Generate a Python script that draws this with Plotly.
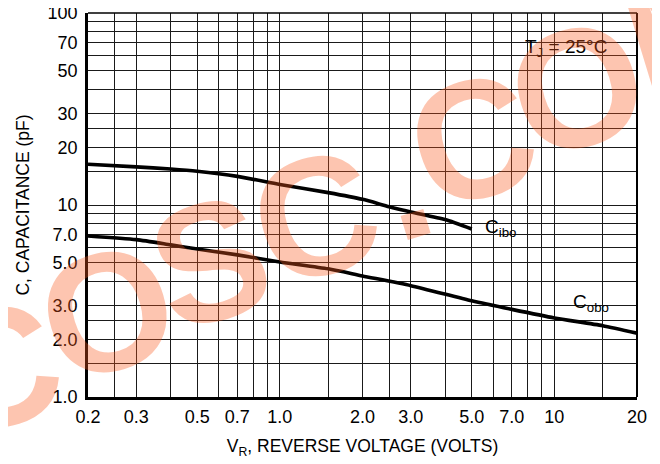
import plotly.graph_objects as go

# ---- data ----
vr_ibo = [0.2, 0.3, 0.4, 0.5, 0.7, 1.0, 1.5, 2.0, 2.5, 3.0, 4.0, 5.0]
c_ibo = [16.3, 15.8, 15.4, 15.0, 14.1, 12.8, 11.6, 10.7, 9.8, 9.2, 8.4, 7.5]

vr_obo = [0.2, 0.3, 0.4, 0.5, 0.7, 1.0, 1.5, 2.0, 3.0, 5.0, 7.0, 10, 15, 20]
c_obo = [6.9, 6.6, 6.2, 5.9, 5.5, 5.05, 4.65, 4.27, 3.8, 3.17, 2.86, 2.58, 2.35, 2.15]

x_grid = [0.2, 0.25, 0.3, 0.4, 0.5, 0.6, 0.7, 0.8, 0.9, 1, 1.5, 2, 2.5, 3, 4, 5, 6, 7, 8, 9, 10, 15, 20]
x_labels = {0.2: "0.2", 0.3: "0.3", 0.5: "0.5", 0.7: "0.7", 1: "1.0", 2: "2.0",
            3: "3.0", 5: "5.0", 7: "7.0", 10: "10", 20: "20"}
y_grid = [1, 1.5, 2, 2.5, 3, 4, 5, 6, 7, 8, 9, 10, 15, 20, 25, 30, 40, 50, 60, 70, 80, 90, 100]
y_labels = {1: "1.0", 2: "2.0", 3: "3.0", 5: "5.0", 7: "7.0", 10: "10", 20: "20",
            30: "30", 50: "50", 70: "70", 100: "100"}

x_title = "V<sub>R</sub>, REVERSE VOLTAGE (VOLTS)"
y_title = "C, CAPACITANCE (pF)"
temp_label = "T<sub>J</sub> = 25°C"
ibo_label = "C<sub>ibo</sub>"
obo_label = "C<sub>obo</sub>"
watermark_letters = ["C", "O", "S", "C", ".", "C", "O", "M"]

# layout of the watermark letters (paper coordinates)
wm_pos = [(-0.165, 0.075), (0.035, 0.222), (0.222, 0.352), (0.415, 0.468),
          (0.572, 0.562), (0.701, 0.668), (0.891, 0.805), (1.109, 0.951)]

FONT = "Liberation Sans, Arial, sans-serif"
GRID = "#1a1a1a"

fig = go.Figure()
fig.add_trace(go.Scatter(x=vr_ibo, y=c_ibo, mode="lines",
                         line=dict(color="black", width=3.6, shape="spline", smoothing=0.6),
                         showlegend=False, hoverinfo="skip"))
fig.add_trace(go.Scatter(x=vr_obo, y=c_obo, mode="lines",
                         line=dict(color="black", width=3.6, shape="spline", smoothing=0.6),
                         showlegend=False, hoverinfo="skip"))

fig.update_layout(
    width=652, height=456,
    margin=dict(l=80, r=23, t=5, b=67, autoexpand=False),
    paper_bgcolor="white", plot_bgcolor="white",
    font=dict(family=FONT, size=18, color="black"),
    xaxis=dict(
        type="log", range=[-0.69897, 1.30103],
        tickmode="array", tickvals=x_grid,
        ticktext=[x_labels.get(v, "") for v in x_grid],
        showgrid=True, gridcolor=GRID, gridwidth=1.3,
        showline=True, linecolor="black", linewidth=2.6,
        ticks="outside", ticklen=2, tickcolor="rgba(0,0,0,0)",
        ticklabeloverflow="allow",
        zeroline=False,
        title=dict(text=x_title, standoff=14, font=dict(size=17.5)),
        tickfont=dict(size=18),
    ),
    yaxis=dict(
        type="log", range=[0, 2],
        tickmode="array", tickvals=y_grid,
        ticktext=[y_labels.get(v, "") for v in y_grid],
        showgrid=True, gridcolor=GRID, gridwidth=1.3,
        showline=True, linecolor="black", linewidth=2.6,
        ticks="outside", ticklen=4, tickcolor="rgba(0,0,0,0)",
        ticklabeloverflow="allow",
        zeroline=False,
        title=dict(text=y_title, standoff=14, font=dict(size=17.5)),
        tickfont=dict(size=18),
    ),
)

shapes = [
    # white boxes under labels (hide gridlines, not curves)
    dict(type="rect", xref="paper", yref="paper", x0=0.791, x1=0.969, y0=0.865, y1=0.958,
         fillcolor="white", line=dict(width=0), layer="between"),
    dict(type="rect", xref="paper", yref="paper", x0=0.707, x1=0.800, y0=0.391, y1=0.489,
         fillcolor="white", line=dict(width=0), layer="between"),
    dict(type="rect", xref="paper", yref="paper", x0=0.869, x1=0.973, y0=0.206, y1=0.292,
         fillcolor="white", line=dict(width=0), layer="between"),
    # top and right frame
    dict(type="line", xref="paper", yref="paper", x0=0, x1=1, y0=1, y1=1,
         line=dict(color="black", width=1.5)),
    dict(type="line", xref="paper", yref="paper", x0=1, x1=1, y0=0, y1=1,
         line=dict(color="black", width=2)),
]
fig.update_layout(shapes=shapes)

annotations = [
    dict(text=temp_label, xref="paper", yref="paper", x=0.871, y=0.909,
         xanchor="center", yanchor="middle", showarrow=False, font=dict(size=19)),
    dict(text=ibo_label, xref="paper", yref="paper", x=0.751, y=0.44,
         xanchor="center", yanchor="middle", showarrow=False, font=dict(size=19)),
    dict(text=obo_label, xref="paper", yref="paper", x=0.917, y=0.245,
         xanchor="center", yanchor="middle", showarrow=False, font=dict(size=19)),
]
for ch, (px, py) in zip(watermark_letters, wm_pos):
    annotations.append(dict(
        text=ch, xref="paper", yref="paper", x=px, y=py,
        xanchor="center", yanchor="middle", showarrow=False, textangle=-17,
        font=dict(family="Liberation Sans, Arial, sans-serif", size=168,
                  color="rgba(250,90,30,0.35)", weight="bold")))
fig.update_layout(annotations=annotations)

fig.write_html("out.html")
